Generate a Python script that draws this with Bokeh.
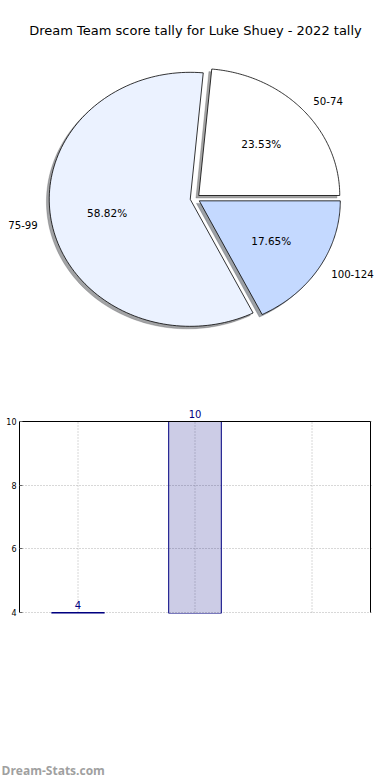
import numpy as np
from bokeh.plotting import figure
from bokeh.models import (Range1d, Label, FixedTicker, ColumnDataSource,
                          CDSView, BooleanFilter)
from bokeh.layouts import column
from bokeh.embed import file_html
from bokeh.resources import INLINE
from bokeh.core.properties import value

# ---------------- data ----------------
title_text = "Dream Team score tally for Luke Shuey - 2022 tally"
categories = ["50-74", "75-99", "100-124"]
counts = [4, 10, 3]
slice_colors = ["#ffffff", "#ebf2ff", "#c4d9ff"]
y_ticks = [4, 6, 8, 10]
watermark = "Dream-Stats.com"

# ---------------- layout constants ----------------
W = 390
PIE_H = 358
BAR_H = 362
FOOT_H = 60
cx_px, cy_px = 194.6, 198.0
rx_px, ry_px = 141.0, 127.0
explode = 0.035
FONT = value("DejaVu Sans")

# ---------------- pie ----------------
pie = figure(width=W, height=PIE_H,
             x_range=Range1d(-cx_px / rx_px, (W - cx_px) / rx_px),
             y_range=Range1d((cy_px - PIE_H) / ry_px, cy_px / ry_px),
             x_axis_type=None, y_axis_type=None, toolbar_location=None,
             output_backend="svg", min_border=0)
pie.frame_align = False
pie.outline_line_color = None

total = float(sum(counts))
fracs = np.array(counts) / total
edges = np.concatenate([[0.0], np.cumsum(fracs)]) * 2 * np.pi

wx, wy, sx, sy, shadow_cols = [], [], [], [], []
lab_x, lab_y, lab_al, pct_x, pct_y, pct_t = [], [], [], [], [], []
for i, c in enumerate(categories):
    t1, t2 = edges[i], edges[i + 1]
    mid = 0.5 * (t1 + t2)
    ox, oy = explode * np.cos(mid), explode * np.sin(mid)
    t = np.linspace(t1, t2, 120)
    px = np.concatenate([[ox], ox + np.cos(t), [ox]])
    py = np.concatenate([[oy], oy + np.sin(t), [oy]])
    wx.append(px); wy.append(py)
    sx.append(px - 0.02); sy.append(py - 0.02)
    h = slice_colors[i].lstrip("#")
    rgb = [int(h[k:k + 2], 16) for k in (0, 2, 4)]
    shadow_cols.append("#%02x%02x%02x" % tuple(int(0.3 * v) for v in rgb))
    lab_x.append(ox + 1.1 * np.cos(mid)); lab_y.append(oy + 1.1 * np.sin(mid))
    lab_al.append("left" if np.cos(mid) > 0 else "right")
    pct_x.append(ox + 0.6 * np.cos(mid)); pct_y.append(oy + 0.6 * np.sin(mid))
    pct_t.append("%.2f%%" % (100 * fracs[i]))

pie.patches(xs=sx, ys=sy, fill_color=shadow_cols, fill_alpha=0.5,
            line_color=shadow_cols, line_alpha=0.5, line_width=0.5)
pie.patches(xs=wx, ys=wy, fill_color=slice_colors, line_color="black",
            line_width=0.8)
pie.text(x=lab_x, y=lab_y, text=categories, text_align=lab_al,
         text_baseline="middle", text_font=FONT, text_font_size="10.2px",
         text_color="black")
pie.text(x=pct_x, y=pct_y, text=pct_t, text_align="center",
         text_baseline="middle", text_font=FONT, text_font_size="10.5px",
         text_color="black")
pie.text(x=[(195 - cx_px) / rx_px], y=[(cy_px - 30) / ry_px],
         text=[title_text], text_align="center", text_baseline="middle",
         text_font=FONT, text_font_size="13px", text_color="black")

# ---------------- bar ----------------
y_min, y_max = y_ticks[0], y_ticks[-1]
x_idx = list(range(len(categories)))
ppu = 191.0 / (y_max - y_min)      # pixels per count unit
ppx = 117.0                        # pixels per category
TOP_PAD, BOT_PAD, RIGHT_PAD = 24, 1, 2
bar = figure(width=W, height=BAR_H,
             x_range=Range1d(x_idx[0] - 0.5, x_idx[-1] + 0.5 + RIGHT_PAD / ppx),
             y_range=Range1d(y_min - BOT_PAD / ppu, y_max + TOP_PAD / ppu),
             x_axis_location=None, toolbar_location=None,
             output_backend="svg", min_border_top=63 - TOP_PAD,
             min_border_bottom=(PIE_H + BAR_H - 612) - BOT_PAD,
             min_border_right=20 - RIGHT_PAD, min_border_left=19)
bar.frame_align = False
bar.outline_line_color = None
bar.xgrid.visible = False
bar.ygrid.ticker = FixedTicker(ticks=y_ticks)
bar.ygrid.grid_line_color = "#b0b0b0"
bar.ygrid.grid_line_dash = "1 2"
bar.ygrid.grid_line_width = 1

# vertical grid lines, limited to the tick span
bar.segment(x0=x_idx, y0=[y_min] * len(x_idx), x1=x_idx,
            y1=[y_max] * len(x_idx), line_color="#b0b0b0", line_dash="1 2",
            line_width=1)

bar.yaxis.ticker = FixedTicker(ticks=y_ticks)
bar.yaxis.bounds = (y_min, y_max)
bar.yaxis.major_label_text_font_size = "8px"
bar.yaxis.major_label_text_font = "DejaVu Sans"
bar.yaxis.major_label_text_color = "black"
bar.yaxis.major_label_standoff = 3
bar.yaxis.major_tick_in = 3
bar.yaxis.major_tick_out = 0
bar.yaxis.major_tick_line_color = "#666666"
bar.yaxis.minor_tick_line_color = None
bar.yaxis.axis_line_color = "black"

src = ColumnDataSource(dict(x=x_idx, top=counts))
view = CDSView(filter=BooleanFilter([v >= y_min for v in counts]))
bar.vbar(x="x", top="top", bottom=0, width=0.45, source=src, view=view,
         fill_color="navy", fill_alpha=0.2, line_color="navy", line_width=1)

# top and right frame lines
bar.segment(x0=[x_idx[0] - 0.5, x_idx[-1] + 0.5],
            y0=[y_max, y_min],
            x1=[x_idx[-1] + 0.5, x_idx[-1] + 0.5],
            y1=[y_max, y_max], line_color="black", line_width=1)

for i, v in zip(x_idx, counts):
    if y_min <= v <= y_max:
        bar.add_layout(Label(x=i, y=v, y_offset=4, text=str(v),
                             text_align="center", text_baseline="bottom",
                             text_color="navy", text_font_size="10px",
                             text_font="DejaVu Sans"))

# ---------------- footer ----------------
foot = figure(width=W, height=FOOT_H, x_range=Range1d(0, W),
              y_range=Range1d(0, FOOT_H), x_axis_type=None, y_axis_type=None,
              toolbar_location=None, output_backend="svg", min_border=0)
foot.frame_align = False
foot.outline_line_color = None
foot.text(x=[1], y=[10], text=[watermark], text_align="left",
          text_baseline="middle", text_font=value("Open Sans"),
          text_font_style="bold", text_font_size="12px", text_color="#a0a0a0")

layout = column(pie, bar, foot, spacing=0)
open("out.html", "w").write(file_html(layout, INLINE))
